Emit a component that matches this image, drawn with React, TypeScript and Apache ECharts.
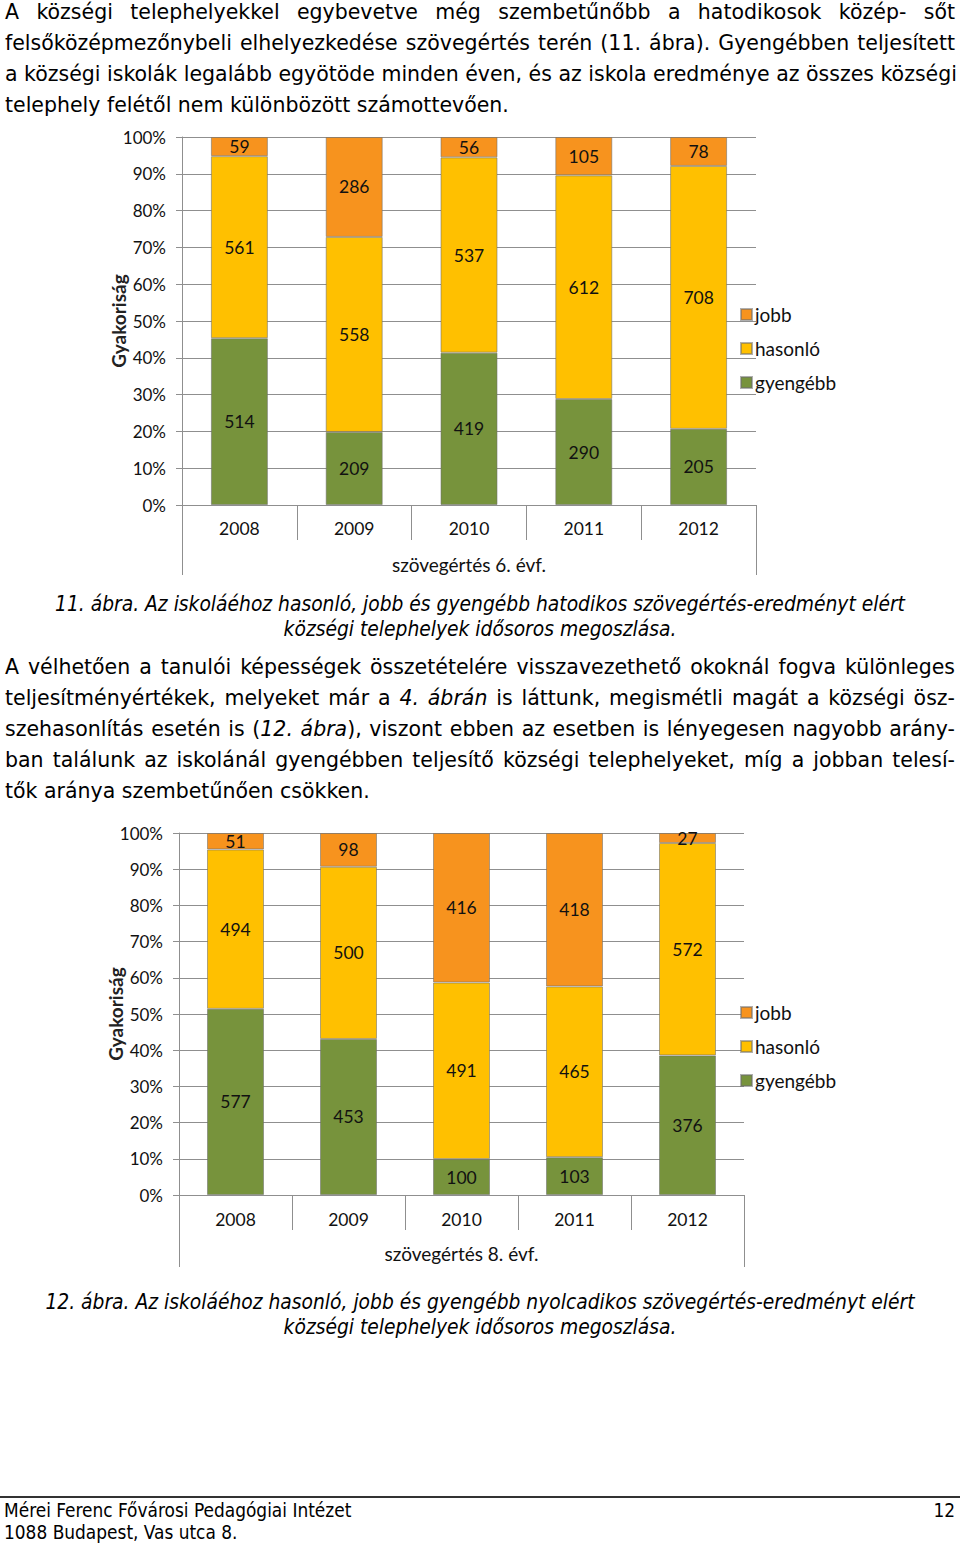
import React, { useEffect, useRef } from "react";
import * as echarts from "echarts";

// ---------- data ----------
const years = ["2008", "2009", "2010", "2011", "2012"];
const legendNames = ["jobb", "hasonló", "gyengébb"];
const jobb6 = [59, 286, 56, 105, 78];
const hasonlo6 = [561, 558, 537, 612, 708];
const gyengebb6 = [514, 209, 419, 290, 205];
const jobb8 = [51, 98, 416, 418, 27];
const hasonlo8 = [494, 500, 491, 465, 572];
const gyengebb8 = [577, 453, 100, 103, 376];
const yAxisName = "Gyakoriság";
const groupLabel6 = "szövegértés 6. évf.";
const groupLabel8 = "szövegértés 8. évf.";

const COLORS = { jobb: "#F7931E", hasonlo: "#FFC000", gyengebb: "#77933C" };
const CHART_FONT = "Lato, 'Open Sans', sans-serif";
const GRID_GRAY = "#8f8f8f";

type Geom = {
  left: number;
  top: number;
  width: number;
  height: number;
  barWidth: number;
  legendTop: number;
  sepLen: number;
  outerLen: number;
  catMargin: number;
  groupMargin: number;
};

function makeOption(
  j: number[],
  h: number[],
  g: number[],
  groupLabel: string,
  geo: Geom
): echarts.EChartsOption {
  const totals = years.map((_, i) => j[i] + h[i] + g[i]);
  const toData = (arr: number[]) =>
    arr.map((v, i) => ({ value: (v / totals[i]) * 100, count: v }));
  const label = {
    show: true,
    position: "inside" as const,
    fontFamily: CHART_FONT,
    fontSize: 17.5,
    color: "#111",
    formatter: (p: any) => String(p.data.count),
  };
  const mk = (name: string, arr: number[], color: string) => ({
    name,
    type: "bar" as const,
    stack: "total",
    barWidth: geo.barWidth,
    data: toData(arr),
    itemStyle: { color, borderColor: "rgba(110,110,110,0.55)", borderWidth: 1 },
    label,
  });
  return {
    animation: false,
    backgroundColor: "#fff",
    textStyle: { fontFamily: CHART_FONT },
    legend: {
      orient: "vertical",
      left: 740,
      top: geo.legendTop,
      padding: 0,
      data: legendNames,
      itemWidth: 11,
      itemHeight: 11,
      itemGap: 15,
      icon: "rect",
      textStyle: { fontFamily: CHART_FONT, fontSize: 19, color: "#111", padding: [0, 0, 0, -2] },
      selectedMode: false,
    },
    grid: { left: geo.left, top: geo.top, width: geo.width, height: geo.height, containLabel: false },
    xAxis: [
      {
        type: "category",
        data: years,
        position: "bottom",
        axisLine: { show: true, lineStyle: { color: GRID_GRAY, width: 1 } },
        axisTick: { show: true, length: geo.sepLen, lineStyle: { color: GRID_GRAY } },
        axisLabel: { fontFamily: CHART_FONT, fontSize: 17.5, color: "#111", margin: geo.catMargin },
      },
      {
        type: "category",
        data: [groupLabel],
        position: "bottom",
        axisLine: { show: false },
        axisTick: { show: true, length: geo.outerLen, lineStyle: { color: GRID_GRAY } },
        axisLabel: { fontFamily: CHART_FONT, fontSize: 19, color: "#111", margin: geo.groupMargin },
      },
    ],
    yAxis: {
      type: "value",
      min: 0,
      max: 100,
      interval: 10,
      name: yAxisName,
      nameLocation: "middle",
      nameRotate: 90,
      nameGap: 54,
      nameMoveOverlap: false,
      nameTextStyle: { fontFamily: CHART_FONT, fontSize: 19, fontWeight: "bold", color: "#222" },
      axisLine: { show: true, lineStyle: { color: GRID_GRAY } },
      axisTick: { show: true, length: 6, lineStyle: { color: GRID_GRAY } },
      splitLine: { show: true, lineStyle: { color: GRID_GRAY } },
      axisLabel: { fontFamily: CHART_FONT, fontSize: 17, color: "#111", margin: 16, formatter: "{value}%" },
    } as any,
    series: [
      mk("gyengébb", g, COLORS.gyengebb),
      mk("hasonló", h, COLORS.hasonlo),
      mk("jobb", j, COLORS.jobb),
    ],
  };
}

function Chart({ option, style }: { option: echarts.EChartsOption; style: React.CSSProperties }) {
  const ref = useRef<HTMLDivElement>(null);
  useEffect(() => {
    if (!ref.current) return;
    const c = echarts.init(ref.current, undefined, { renderer: "svg" });
    c.setOption(option);
    return () => c.dispose();
  }, [option]);
  return <div ref={ref} style={style} />;
}

const BODY_FONT = "'DejaVu Sans', sans-serif";
const COND_FONT = "'DejaVu Sans Condensed', 'DejaVu Sans', sans-serif";

function PLine({ y, last, children }: { y: number; last?: boolean; children: React.ReactNode }) {
  return (
    <div
      style={{
        position: "absolute",
        left: 5,
        width: 950,
        top: y - 15.5,
        height: 31,
        lineHeight: "31px",
        fontFamily: BODY_FONT,
        fontSize: 20.5,
        whiteSpace: "nowrap",
        textAlign: last ? "left" : "justify",
        textAlignLast: last ? "left" : "justify",
        color: "#000",
      }}
    >
      {children}
    </div>
  );
}

function CLine({ y, children }: { y: number; children: React.ReactNode }) {
  return (
    <div
      style={{
        position: "absolute",
        left: 0,
        width: 960,
        top: y - 12.5,
        height: 25,
        lineHeight: "25px",
        fontFamily: COND_FONT,
        fontStretch: "condensed",
        fontStyle: "italic",
        fontSize: 20.8,
        whiteSpace: "nowrap",
        textAlign: "center",
        color: "#000",
      }}
    >
      {children}
    </div>
  );
}

const option6 = makeOption(jobb6, hasonlo6, gyengebb6, groupLabel6, {
  left: 182,
  top: 17,
  width: 574,
  height: 368,
  barWidth: 57,
  legendTop: 185,
  sepLen: 35,
  outerLen: 70,
  catMargin: 14,
  groupMargin: 50,
});
const option8 = makeOption(jobb8, hasonlo8, gyengebb8, groupLabel8, {
  left: 179,
  top: 18,
  width: 565,
  height: 362,
  barWidth: 57,
  legendTop: 188,
  sepLen: 35,
  outerLen: 72,
  catMargin: 15,
  groupMargin: 49,
});

export default function App() {
  return (
    <div
      style={{
        position: "absolute",
        left: 0,
        top: 0,
        width: 960,
        height: 1544,
        background: "#fff",
        overflow: "hidden",
        fontFamily: BODY_FONT,
      }}
    >
      <PLine y={12}>A községi telephelyekkel egybevetve még szembetűnőbb a hatodikosok közép- sőt</PLine>
      <PLine y={43}>felsőközépmezőnybeli elhelyezkedése szövegértés terén (11. ábra). Gyengébben teljesített</PLine>
      <PLine y={74}>a községi iskolák legalább egyötöde minden éven, és az iskola eredménye az összes községi</PLine>
      <PLine y={105} last>telephely felétől nem különbözött számottevően.</PLine>

      <Chart option={option6} style={{ position: "absolute", left: 0, top: 120, width: 960, height: 470 }} />

      <CLine y={604}>11. ábra. Az iskoláéhoz hasonló, jobb és gyengébb hatodikos szövegértés-eredményt elért</CLine>
      <CLine y={629}>községi telephelyek idősoros megoszlása.</CLine>

      <PLine y={667}>A vélhetően a tanulói képességek összetételére visszavezethető okoknál fogva különleges</PLine>
      <PLine y={698}>
        teljesítményértékek, melyeket már a <i>4. ábrán</i> is láttunk, megismétli magát a községi ösz-
      </PLine>
      <PLine y={729}>
        szehasonlítás esetén is (<i>12. ábra</i>), viszont ebben az esetben is lényegesen nagyobb arány-
      </PLine>
      <PLine y={760}>ban találunk az iskolánál gyengébben teljesítő községi telephelyeket, míg a jobban telesí-</PLine>
      <PLine y={791} last>tők aránya szembetűnően csökken.</PLine>

      <Chart option={option8} style={{ position: "absolute", left: 0, top: 815, width: 960, height: 465 }} />

      <CLine y={1302}>12. ábra. Az iskoláéhoz hasonló, jobb és gyengébb nyolcadikos szövegértés-eredményt elért</CLine>
      <CLine y={1327}>községi telephelyek idősoros megoszlása.</CLine>

      <div style={{ position: "absolute", left: 0, top: 1496, width: 960, height: 2, background: "#333" }} />
      <div
        style={{
          position: "absolute",
          left: 4,
          top: 1499,
          lineHeight: "22px",
          fontFamily: COND_FONT,
          fontStretch: "condensed",
          fontSize: 18.9,
          color: "#000",
          whiteSpace: "nowrap",
        }}
      >
        <div>Mérei Ferenc Fővárosi Pedagógiai Intézet</div>
        <div>1088 Budapest, Vas utca 8.</div>
      </div>
      <div
        style={{
          position: "absolute",
          right: 5,
          top: 1499,
          lineHeight: "22px",
          fontFamily: COND_FONT,
          fontStretch: "condensed",
          fontSize: 18.9,
          color: "#000",
        }}
      >
        12
      </div>
    </div>
  );
}
